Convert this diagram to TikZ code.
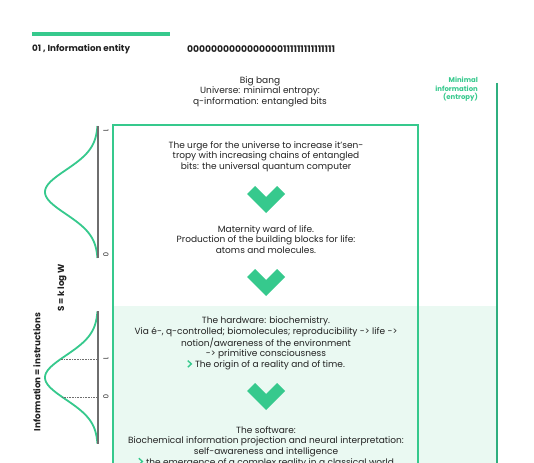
\documentclass[tikz,border=0pt]{standalone}
\usepackage{fontspec}
\setmainfont{Poppins}
\definecolor{mint}{HTML}{36C98D}
\definecolor{mintdark}{HTML}{2FAF7F}
\definecolor{mintlight}{HTML}{EAF9F2}
\definecolor{ink}{HTML}{222222}
\definecolor{axisgray}{HTML}{6E6E6E}
\newcommand\garrow{\tikz[baseline=0pt,x=1pt,y=1pt]\draw[mint,line width=1.4pt,line join=miter] (0,0.3)--(3.6,3.6)--(0,6.9);\hspace{3pt}}
\newcommand\gausscurve[1]{\draw[mint,line width=1.8pt,smooth,samples=80,domain=-66:66] plot ({98-53*exp(-(\x)^2/968)},{#1+\x});}
\tikzset{
  body/.style={font=\fontsize{9}{10.6}\selectfont, text=ink, align=center, inner sep=0pt},
  chevron/.style={fill=mint},
  axisline/.style={draw=axisgray, line width=1.8pt},
  dotline/.style={draw=axisgray, densely dotted, line width=0.6pt},
  headlabel/.style={font=\bfseries\fontsize{8.8}{10}\selectfont, text=ink, inner sep=0pt},
  bitslabel/.style={font=\bfseries\fontsize{9.2}{10}\selectfont, text=ink, inner sep=0pt},
  vlabel/.style={font=\bfseries\fontsize{8.8}{10}\selectfont, text=ink, inner sep=0pt},
  ticklabel/.style={font=\fontsize{7}{8}\selectfont, text=ink, inner sep=0pt, rotate=-90}
}
\begin{document}
\begin{tikzpicture}[x=1pt,y=-1pt]
\useasboundingbox (0,0) rectangle (534,462);
\fill[white] (0,0) rectangle (534,462);
% light background of the lower part
\fill[mintlight] (113,306) rectangle (497,480);
% main box
\draw[mint,line width=1.3pt] (113,480) -- (113,125) -- (418,125) -- (418,480);
% right scale line
\draw[mintdark,line width=2pt] (497,83) -- (497,480);
% header
\fill[mint] (32,32) rectangle (170,36);
\node[headlabel,anchor=west] (title) at (32,49) {01 , Information entity};
\node[bitslabel,anchor=west] (bits) at (187,49) {0000000000000000111111111111111};
% top text
\node[body] (bigbang) at (260,91.5) {Big bang\\Universe: minimal entropy:\\q-information: entangled bits};
\node[font=\bfseries\fontsize{6.9}{8.6}\selectfont, text=mint, align=right, anchor=north east, inner sep=0pt] (minimal) at (478,77) {Minimal\\information\\(entropy)};
% box texts
\node[body] (urge) at (266,156.5) {The urge for the universe to increase it'sen-\\tropy with increasing chains of entangled\\bits: the universal quantum computer};
\node[body] (maternity) at (266,239.5) {Maternity ward of life.\\Production of the building blocks for life:\\atoms and molecules.};
\node[body] (hardware) at (266,343.5) {The hardware: biochemistry.\\Via é-, q-controlled; biomolecules; reproducibility -> life ->\\notion/awareness of the environment\\-> primitive consciousness\\\garrow The origin of a reality and of time.};
\node[body] (software) at (266,447) {The software:\\Biochemical information projection and neural interpretation:\\self-awareness and intelligence\\\garrow the emergence of a complex reality in a classical world};
% chevrons
\foreach \yy in {186,269,383}{
  \fill[chevron,shift={(266,\yy)}] (-19,8) -- (-11,0) -- (0,11) -- (11,0) -- (19,8) -- (0,27) -- cycle;
}
% plot 1
\gausscurve{192}
\draw[axisline] (98,126) -- (98,258);
\node[ticklabel] (one1) at (106,131) {1};
\node[ticklabel] (zero1) at (106,255) {0};
% plot 2
\gausscurve{377.5}
\draw[axisline] (98,311) -- (98,444);
\draw[dotline] ({98-53*exp(-(18.5)^2/968)},359) -- (98,359);
\draw[dotline] ({98-53*exp(-(19.5)^2/968)},397) -- (98,397);
\node[ticklabel] (one2) at (106,359) {1};
\node[ticklabel] (zero2) at (106,397) {0};
% rotated labels
\node[vlabel,rotate=90] (boltz) at (62,288) {S = k log W};
\node[vlabel,rotate=90] (info) at (37,372) {Information = instructions};
\end{tikzpicture}
\end{document}
